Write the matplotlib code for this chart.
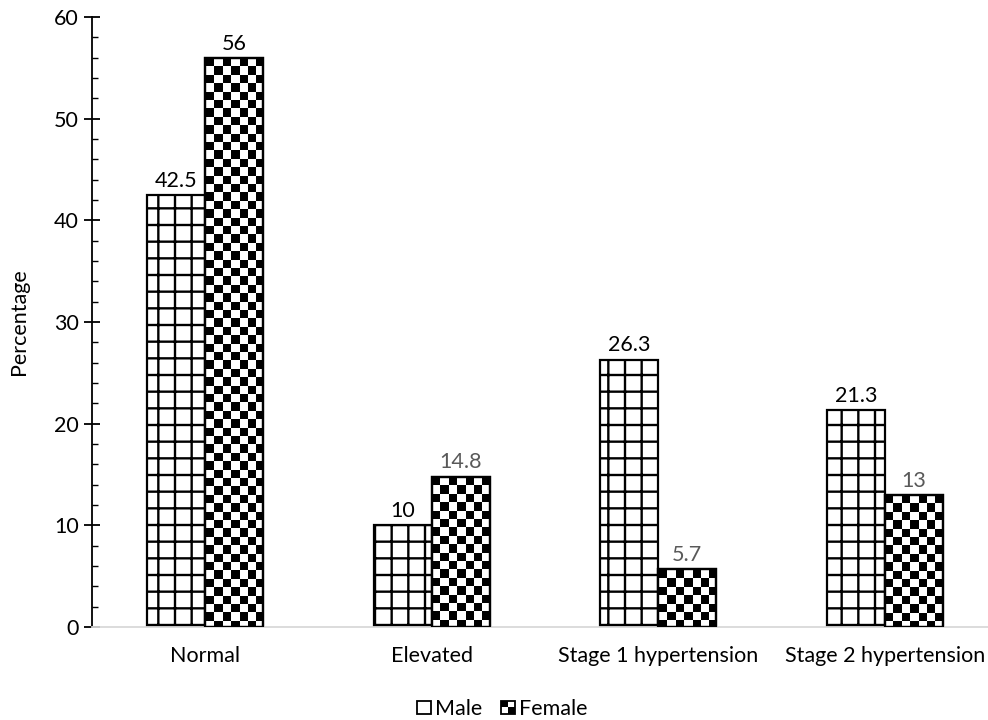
import numpy as np
import matplotlib
matplotlib.use("Agg")
import matplotlib.pyplot as plt
from matplotlib.patches import Rectangle
from matplotlib.collections import PolyCollection
from matplotlib.transforms import IdentityTransform
from matplotlib.legend_handler import HandlerBase
from matplotlib.ticker import MultipleLocator

categories = ["Normal", "Elevated", "Stage 1 hypertension", "Stage 2 hypertension"]
male = [42.5, 10, 26.3, 21.3]
female = [56, 14.8, 5.7, 13]
male_label_colors = ["#000000", "#000000", "#000000", "#000000"]
female_label_colors = ["#000000", "#595959", "#595959", "#595959"]
series_names = ["Male", "Female"]
y_ticks = [0, 10, 20, 30, 40, 50, 60]

plt.rcParams['font.family'] = ['Lato', 'DejaVu Sans']
plt.rcParams['hatch.linewidth'] = 1.7

FS = 15.5
W, H = 988, 720
fig = plt.figure(figsize=(W / 100, H / 100), dpi=100)
ax = fig.add_axes([92 / W, 1 - 627 / H, 906 / W, 610 / H])

x = np.arange(len(categories))
bw = 0.256

mbars = ax.bar(x - bw / 2, male, bw, facecolor="white", edgecolor="black",
               linewidth=1.6, hatch="+", zorder=2)
fbars = ax.bar(x + bw / 2, female, bw, facecolor="white", edgecolor="black",
               linewidth=1.6, zorder=2)

ax.set_xlim(-0.5, 3.5)
ax.set_ylim(0, 60)

# checkerboard fill for the female bars: black pixel cells clipped to each bar
fig.canvas.draw()
cell = 8.4
for b in fbars:
    ext = b.get_window_extent()
    x0 = np.floor(ext.x0) + 1
    y1 = np.ceil(ext.y1) - 1
    ncols = int(np.ceil((ext.x1 - x0) / cell)) + 1
    nrows = int(np.ceil((y1 - ext.y0) / cell)) + 1
    polys = []
    for r in range(nrows):
        for c in range(ncols):
            if (r + c) % 2 == 0:
                cx0 = np.round(x0 + c * cell)
                cx1 = np.round(x0 + (c + 1) * cell)
                cy1 = np.round(y1 - r * cell)
                cy0 = np.round(y1 - (r + 1) * cell)
                polys.append([(cx0, cy0), (cx1, cy0), (cx1, cy1), (cx0, cy1)])
    pc = PolyCollection(polys, facecolors="black", edgecolors="none",
                        antialiased=False, transform=IdentityTransform(), zorder=2.5)
    ax.add_collection(pc, autolim=False)
    pc.set_clip_path(b)
for b in fbars:
    ax.add_patch(Rectangle((b.get_x(), b.get_y()), b.get_width(), b.get_height(),
                           facecolor="none", edgecolor="black", linewidth=1.6,
                           zorder=3))
ax.set_xlim(-0.5, 3.5)
ax.set_ylim(0, 60)

# data labels
for b, v, c in zip(mbars, male, male_label_colors):
    ax.annotate(f"{v:g}", (b.get_x() + b.get_width() / 2, v), xytext=(0, 3),
                textcoords="offset points", ha="center", va="bottom",
                fontsize=FS, color=c)
for b, v, c in zip(fbars, female, female_label_colors):
    ax.annotate(f"{v:g}", (b.get_x() + b.get_width() / 2, v), xytext=(0, 3),
                textcoords="offset points", ha="center", va="bottom",
                fontsize=FS, color=c)

# axes styling
ax.spines["top"].set_visible(False)
ax.spines["right"].set_visible(False)
ax.spines["left"].set_linewidth(1.3)
ax.spines["bottom"].set_color("#d9d9d9")
ax.spines["bottom"].set_linewidth(1.3)
ax.set_yticks(y_ticks)
ax.yaxis.set_minor_locator(MultipleLocator(2))
ax.tick_params(axis="y", which="major", direction="inout", length=11, width=1.3,
               labelsize=FS, pad=4)
ax.tick_params(axis="y", which="minor", direction="in", length=4, width=1.0)
ax.set_xticks(x)
ax.set_xticklabels(categories)
ax.tick_params(axis="x", length=0, labelsize=FS, pad=14)
ax.set_ylabel("Percentage", fontsize=FS, labelpad=18)


class CheckerHandler(HandlerBase):
    def create_artists(self, legend, orig_handle, xdescent, ydescent, width,
                       height, fontsize, trans):
        s = height
        x0 = width - s - xdescent
        y0 = -ydescent
        arts = []
        h = s / 2
        for (i, j, col) in [(0, 0, "white"), (1, 0, "black"), (0, 1, "black"), (1, 1, "white")]:
            arts.append(Rectangle((x0 + i * h, y0 + j * h), h, h, facecolor=col,
                                  edgecolor="none", transform=trans))
        arts.append(Rectangle((x0, y0), s, s, facecolor="none", edgecolor="black",
                              linewidth=1.3, transform=trans))
        return arts


class BoxHandler(HandlerBase):
    def create_artists(self, legend, orig_handle, xdescent, ydescent, width,
                       height, fontsize, trans):
        s = height
        x0 = width - s - xdescent
        return [Rectangle((x0, -ydescent), s, s, facecolor="white",
                          edgecolor="black", linewidth=1.3, transform=trans)]


h_m = Rectangle((0, 0), 1, 1)
h_f = Rectangle((0, 0), 1, 1)
fig.legend([h_m, h_f], series_names, loc="center", bbox_to_anchor=(503 / W, 1 - 709 / H),
           ncol=2, frameon=False, fontsize=FS, handlelength=0.6, handleheight=0.6,
           handletextpad=0.2, columnspacing=0.9, borderpad=0.1,
           handler_map={h_m: BoxHandler(), h_f: CheckerHandler()})

fig.savefig("out.png", dpi=100)
